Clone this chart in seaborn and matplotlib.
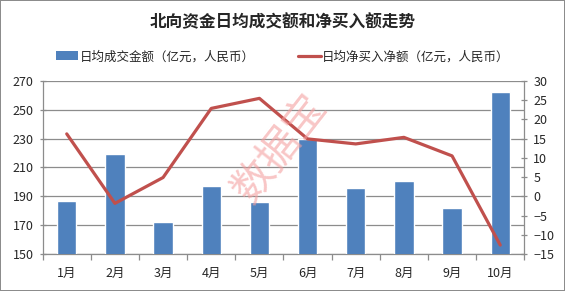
import numpy as np
import pandas as pd
import seaborn as sns
import matplotlib.pyplot as plt
from matplotlib.patches import Patch
from matplotlib.lines import Line2D

# data
months = ['1月', '2月', '3月', '4月', '5月', '6月', '7月', '8月', '9月', '10月']
turnover = [187, 219, 172, 197, 186, 230, 196, 201, 182, 262]
net_buy = [16.2, -1.8, 4.9, 22.8, 25.4, 14.9, 13.6, 15.3, 10.5, -12.6]

title = '北向资金日均成交额和净买入额走势'
bar_label = '日均成交金额（亿元，人民币）'
line_label = '日均净买入净额（亿元，人民币）'

df = pd.DataFrame({'month': months, 'turnover': turnover, 'net': net_buy})

sns.set_style('white')
plt.rcParams['font.family'] = ['Noto Sans CJK SC', 'DejaVu Sans']

bar_color = '#4F81BD'
line_color = '#C0504D'
grid_color = '#8C8C8C'

fig = plt.figure(figsize=(5.65, 2.91), dpi=100, linewidth=1.2, edgecolor='#8C8C8C')
ax = fig.add_axes([0.0755, 0.126, 0.8525, 0.597])

sns.barplot(data=df, x='month', y='turnover', color=bar_color, width=0.4,
            saturation=1, ax=ax, zorder=3)
ax.set_ylim(150, 270)
ax.set_yticks(np.arange(150, 271, 20))
ax.set_xlim(-0.5, 9.5)
ax.yaxis.grid(True, color=grid_color, linewidth=0.9, zorder=0)
ax.set_axisbelow(True)
ax.set_xlabel('')
ax.set_ylabel('')

ax2 = ax.twinx()
sns.lineplot(data=df, x='month', y='net', color=line_color, linewidth=2.3,
             ax=ax2, zorder=4)
ax2.set_ylim(-15, 30)
ax2.set_yticks(np.arange(-15, 31, 5))
ax2.set_xlim(-0.5, 9.5)
ax2.set_ylabel('')
ax2.set_xlabel('')

for a in (ax, ax2):
    a.spines['top'].set_visible(False)
    for s in ('left', 'right', 'bottom'):
        a.spines[s].set_color(grid_color)
        a.spines[s].set_linewidth(0.9)
ax.spines['right'].set_visible(False)
ax2.spines['left'].set_visible(False)
ax2.spines['bottom'].set_visible(False)

ax.tick_params(axis='y', direction='inout', length=5, width=0.9, color=grid_color,
               labelsize=9, pad=4, left=True)
ax2.tick_params(axis='y', direction='inout', length=5, width=0.9, color=grid_color,
                labelsize=9, pad=4, right=True)
ax.set_xticks(np.arange(-0.5, 10, 1), minor=True)
ax.tick_params(axis='x', which='major', length=0, labelsize=9, pad=9)
ax.tick_params(axis='x', which='minor', direction='out', length=4, width=0.9,
               color=grid_color, bottom=True)

fig.text(0.5, 0.925, title, ha='center', va='center', fontsize=12, fontweight='bold')

handles = [Patch(facecolor=bar_color, edgecolor='none'),
           Line2D([0], [0], color=line_color, linewidth=2.3)]
fig.legend(handles, [bar_label, line_label], loc='center', bbox_to_anchor=(0.5, 0.805),
           ncol=2, frameon=False, fontsize=9, handlelength=1.8, handletextpad=0.1,
           columnspacing=3.5)

# watermark
fig.text(0.495, 0.49, '数据宝', rotation=52, fontsize=30, color='#F4A0A0', alpha=0.6,
         ha='center', va='center', zorder=10)

fig.savefig('out.png', dpi=100)
